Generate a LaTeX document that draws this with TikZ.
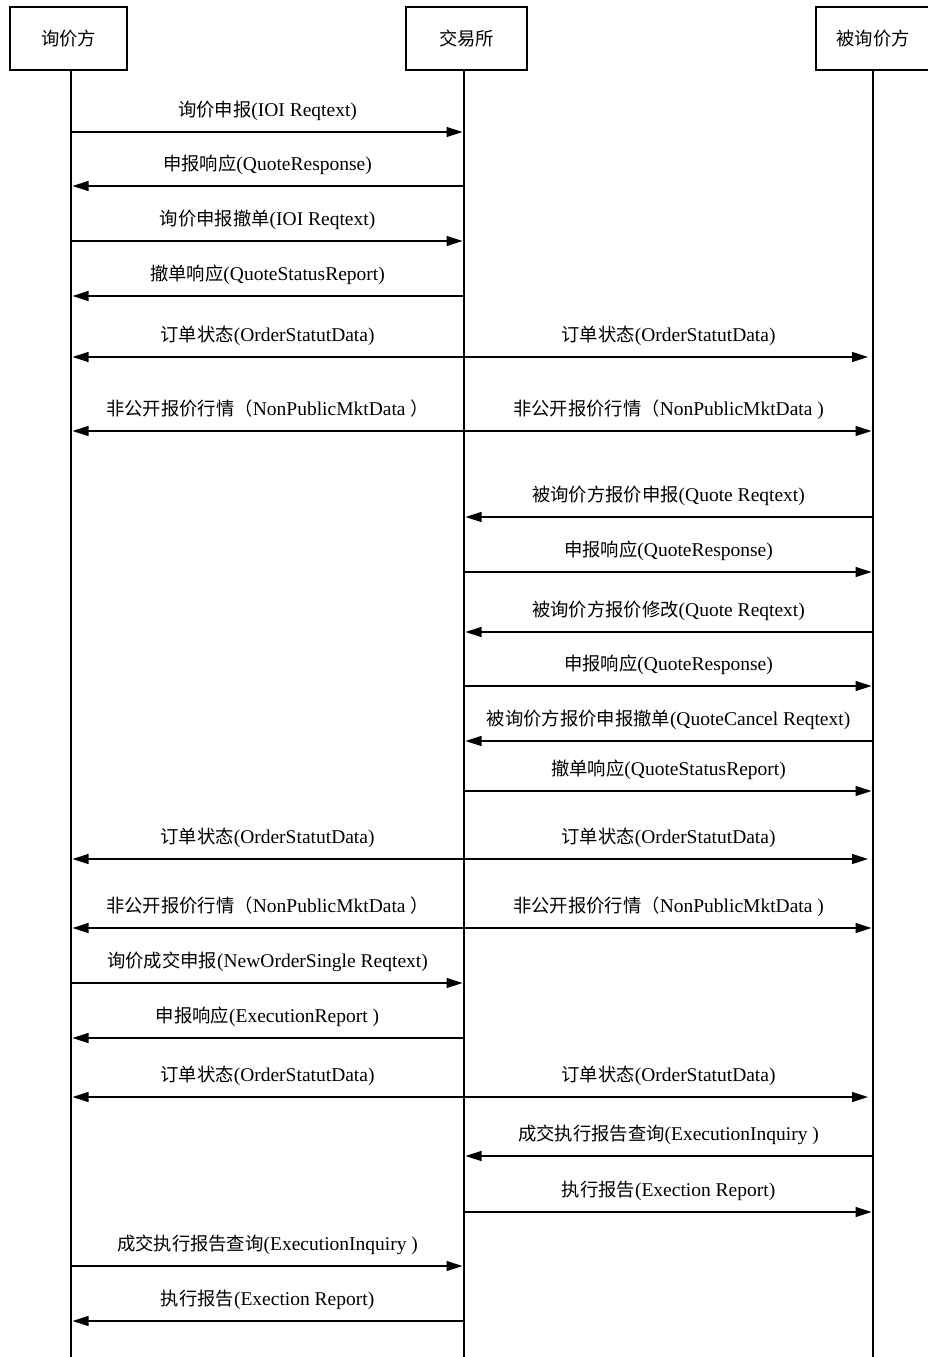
\documentclass[tikz,border=0pt]{standalone}
\usepackage{fontspec}
\setmainfont{Liberation Serif}
\newfontfamily\cjk[Scale=0.94]{Noto Sans CJK SC}
\usetikzlibrary{arrows.meta}
\newcommand\C[1]{{\cjk #1}}
\begin{document}
\begin{tikzpicture}[x=1pt,y=-1pt,line width=1.3pt,
  font=\fontsize{19.5}{22}\selectfont,
  actor/.style={draw,rectangle,inner sep=0pt,minimum height=63pt},
  msg/.style={-{Triangle[length=16pt,width=10pt]}},
  lbl/.style={anchor=base,inner sep=0pt,yshift=16pt},
  life/.style={line width=1.5pt}]
\useasboundingbox (0,0) rectangle (927,1357);
% actors
\node[actor,minimum width=117pt] (A) at (68.5,38.5) {\C{询价方}};
\node[actor,minimum width=121pt] (B) at (466.5,38.5) {\C{交易所}};
\node[actor,minimum width=114pt] (Cc) at (873,38.5) {\C{被询价方}};
% lifelines
\coordinate (La) at (71,70);
\coordinate (Lb) at (464,70);
\coordinate (Lc) at (873,70);
\coordinate (Ea) at (71,1360);
\coordinate (Eb) at (464,1360);
\coordinate (Ec) at (873,1360);
\draw[life] (La) -- (Ea);
\draw[life] (Lb) -- (Eb);
\draw[life] (Lc) -- (Ec);
\newcommand\msg[5][1.5pt]{\draw[msg,shorten >=#1] (#2 |- 0,#4) -- (#3 |- 0,#4) node[midway,lbl] {#5};}
\newcommand\lmsg[4][1.5pt]{\draw[msg,shorten >=#1] (#2 |- 0,#4) -- (#3 |- 0,#4);}
% messages
\msg{La}{Lb}{132}{\C{询价申报}(IOI Reqtext)}
\msg{Lb}{La}{186}{\C{申报响应}(QuoteResponse)}
\msg{La}{Lb}{241}{\C{询价申报撤单}(IOI Reqtext)}
\msg{Lb}{La}{296}{\C{撤单响应}(QuoteStatusReport)}
\msg{Lb}{La}{357}{\C{订单状态}(OrderStatutData)}
\msg[5pt]{Lb}{Lc}{357}{\C{订单状态}(OrderStatutData)}
\msg{Lb}{La}{431}{\C{非公开报价行情（}NonPublicMktData \C{）}}
\msg{Lb}{Lc}{431}{\C{非公开报价行情（}NonPublicMktData )}
\msg{Lc}{Lb}{517}{\C{被询价方报价申报}(Quote Reqtext)}
\msg{Lb}{Lc}{572}{\C{申报响应}(QuoteResponse)}
\msg{Lc}{Lb}{632}{\C{被询价方报价修改}(Quote Reqtext)}
\msg{Lb}{Lc}{686}{\C{申报响应}(QuoteResponse)}
\msg{Lc}{Lb}{741}{\C{被询价方报价申报撤单}(QuoteCancel Reqtext)}
\msg{Lb}{Lc}{791}{\C{撤单响应}(QuoteStatusReport)}
\msg{Lb}{La}{859}{\C{订单状态}(OrderStatutData)}
\msg[5pt]{Lb}{Lc}{859}{\C{订单状态}(OrderStatutData)}
\msg{Lb}{La}{928}{\C{非公开报价行情（}NonPublicMktData \C{）}}
\msg{Lb}{Lc}{928}{\C{非公开报价行情（}NonPublicMktData )}
\msg{La}{Lb}{983}{\C{询价成交申报}(NewOrderSingle Reqtext)}
\msg{Lb}{La}{1038}{\C{申报响应}(ExecutionReport )}
\msg{Lb}{La}{1097}{\C{订单状态}(OrderStatutData)}
\msg[5pt]{Lb}{Lc}{1097}{\C{订单状态}(OrderStatutData)}
\msg{Lc}{Lb}{1156}{\C{成交执行报告查询}(ExecutionInquiry )}
\msg{Lb}{Lc}{1212}{\C{执行报告}(Exection Report)}
\msg{La}{Lb}{1266}{\C{成交执行报告查询}(ExecutionInquiry )}
\msg{Lb}{La}{1321}{\C{执行报告}(Exection Report)}
\end{tikzpicture}
\end{document}
